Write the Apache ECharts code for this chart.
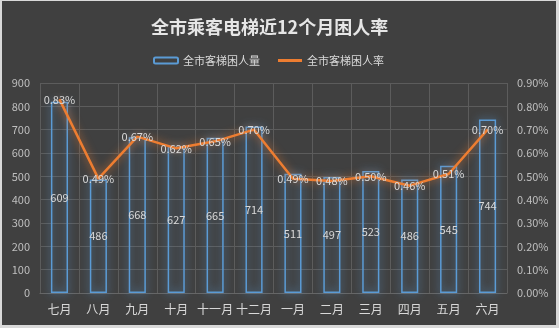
<!DOCTYPE html>
<html><head><meta charset="utf-8">
<script src="https://cdn.jsdelivr.net/npm/echarts@6/dist/echarts.min.js"></script>
<style>
html,body{margin:0;padding:0;background:#d9d9d9;width:559px;height:328px;overflow:hidden;}
#c{position:absolute;left:2px;top:1px;width:554px;height:324px;}
</style></head>
<body><div id="c"></div>
<script>
var categories = ['七月','八月','九月','十月','十一月','十二月','一月','二月','三月','四月','五月','六月'];
var barHeights = [820, 486, 668, 627, 665, 714, 511, 497, 523, 486, 545, 744];
var barLabels = [609, 486, 668, 627, 665, 714, 511, 497, 523, 486, 545, 744];
var rates = [0.83, 0.49, 0.67, 0.62, 0.65, 0.70, 0.49, 0.48, 0.50, 0.46, 0.51, 0.70];
var leftTicks = {min: 0, max: 900, interval: 100};
var rightTicks = {min: 0, max: 0.9, interval: 0.1};

var font = '"Microsoft YaHei","Noto Sans CJK SC",sans-serif';
var chart = echarts.init(document.getElementById('c'));
chart.setOption({
  backgroundColor: '#404040',
  animation: false,
  textStyle: {fontFamily: font},
  title: {
    text: '全市乘客电梯近12个月困人率',
    left: 144, top: 12,
    textStyle: {color: '#e6e6e6', fontSize: 18, fontWeight: 'bold', fontFamily: font}
  },
  legend: {
    left: 146, top: 49,
    itemWidth: 24, itemHeight: 6, itemGap: 18,
    textStyle: {color: '#d9d9d9', fontSize: 11, fontFamily: font},
    data: [{name: '全市客梯困人量'}, {name: '全市客梯困人率', icon: 'path://M0,0H8V1H0Z'}]
  },
  grid: {left: 38, right: 49, top: 82, bottom: 32},
  xAxis: {
    type: 'category', data: categories,
    axisLine: {lineStyle: {color: '#666'}},
    axisTick: {show: false},
    axisLabel: {color: '#d9d9d9', fontSize: 12, margin: 10, interval: 0},
    splitLine: {show: true, interval: 0, lineStyle: {color: '#5c5c5c'}}
  },
  yAxis: [{
    type: 'value', min: leftTicks.min, max: leftTicks.max, interval: leftTicks.interval,
    axisLabel: {color: '#bfbfbf', fontSize: 11, margin: 10},
    axisLine: {show: false}, axisTick: {show: false},
    splitLine: {lineStyle: {color: '#5c5c5c'}}
  }, {
    type: 'value', min: rightTicks.min, max: rightTicks.max, interval: rightTicks.interval,
    axisLabel: {color: '#bfbfbf', fontSize: 11, margin: 10,
      formatter: function (v) { return v.toFixed(2) + '%'; }},
    axisLine: {show: false}, axisTick: {show: false},
    splitLine: {show: false}
  }],
  series: [{
    name: '全市客梯困人量', type: 'bar', data: barHeights, barWidth: '44%',
    itemStyle: {color: 'rgba(0,0,0,0)', borderColor: '#5b9bd5', borderWidth: 1.5,
      shadowColor: 'rgba(91,155,213,1)', shadowBlur: 9},
    label: {show: true, position: 'inside', color: '#d9d9d9', fontSize: 11,
      textBorderWidth: 0, textShadowBlur: 0,
      formatter: function (p) { return barLabels[p.dataIndex]; }}
  }, {
    name: '全市客梯困人率', type: 'line', yAxisIndex: 1, data: rates,
    symbol: 'circle', symbolSize: 1, showSymbol: true,
    lineStyle: {color: '#ed7d31', width: 2.5, shadowColor: 'rgba(237,125,49,0.8)', shadowBlur: 8},
    itemStyle: {color: '#ed7d31'},
    label: {show: true, position: 'inside', color: '#d9d9d9', fontSize: 11,
      textBorderWidth: 0,
      formatter: function (p) { return p.value.toFixed(2) + '%'; }},
    z: 3
  }]
});
</script></body></html>
